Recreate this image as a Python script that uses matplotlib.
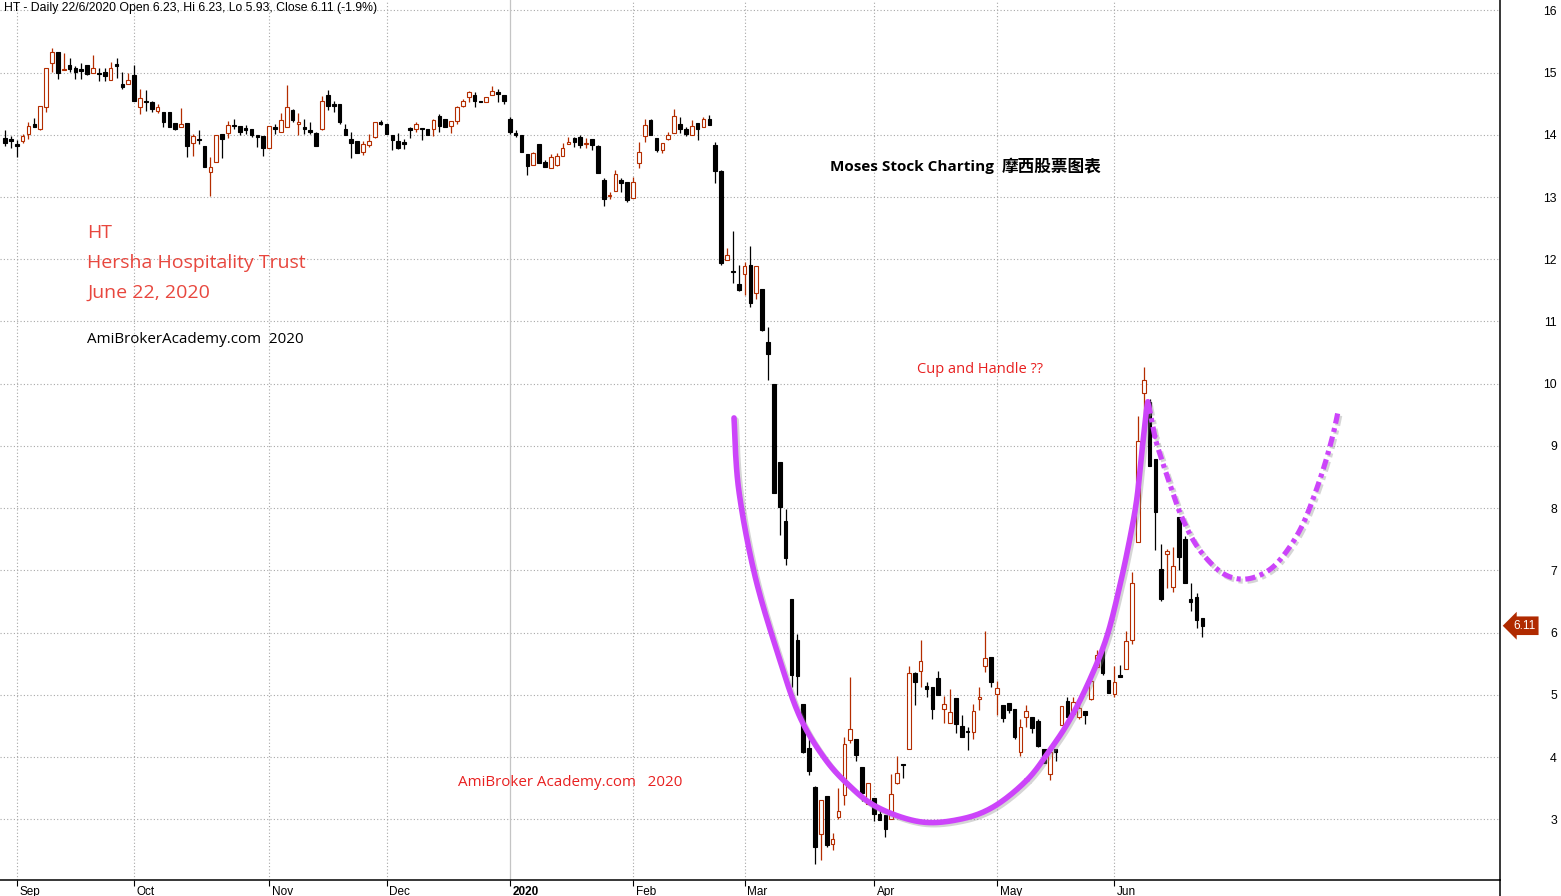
import numpy as np
import pandas as pd
import matplotlib
matplotlib.use("Agg")
import matplotlib.pyplot as plt
import matplotlib.transforms as mtransforms
import matplotlib.patheffects as pe
from matplotlib.lines import Line2D

plt.rcParams['font.family'] = ['Liberation Sans', 'DejaVu Sans']

# daily OHLC, HT, 29 Aug 2019 .. 22 Jun 2020
opens = [13.95, 13.92, 13.84, 13.90, 14.02, 14.18, 14.09, 14.44, 15.16, 15.33,
         15.04, 15.12, 15.08, 15.04, 15.12, 15.00, 14.99, 15.01, 14.88, 15.13,
         14.82, 14.81, 14.96, 14.44, 14.53, 14.53, 14.39, 14.37, 14.37, 14.19,
         14.13, 14.19, 13.86, 13.93, 13.82, 13.40, 13.57, 14.01, 14.03, 14.15,
         14.14, 14.11, 14.09, 13.99, 13.98, 13.78, 14.12, 14.04, 14.13, 14.40,
         14.18, 14.11, 14.06, 14.03, 14.10, 14.64, 14.50, 14.50, 14.10, 13.94,
         13.90, 13.72, 13.83, 13.97, 14.20, 14.18, 14.00, 13.90, 13.88, 14.11,
         14.09, 14.10, 14.09, 14.10, 14.30, 14.25, 14.14, 14.22, 14.47, 14.61,
         14.64, 14.55, 14.52, 14.64, 14.69, 14.64, 14.25, 14.03, 14.00, 13.69,
         13.51, 13.85, 13.56, 13.46, 13.52, 13.66, 13.85, 13.95, 13.96, 13.85,
         13.94, 13.82, 13.28, 13.01, 13.09, 13.28, 13.24, 12.98, 13.54, 13.98,
         14.23, 13.95, 13.76, 13.94, 14.03, 14.18, 14.09, 14.00, 14.19, 14.13,
         14.25, 13.84, 13.42, 11.98, 11.81, 11.60, 11.77, 11.91, 11.45, 11.52,
         10.67, 10.00, 8.74, 7.79, 6.54, 5.88, 4.85, 4.14, 3.52, 2.76,
         3.38, 2.61, 3.04, 3.39, 4.27, 4.29, 3.84, 3.24, 3.34, 3.09,
         3.07, 3.00, 3.59, 3.88, 4.13, 5.35, 5.39, 5.14, 5.13, 5.27,
         4.77, 4.54, 4.95, 4.50, 4.41, 4.41, 4.94, 5.46, 5.61, 5.01,
         4.84, 4.87, 4.77, 4.08, 4.65, 4.64, 4.58, 4.13, 3.73, 4.13,
         4.52, 4.90, 4.69, 4.65, 4.74, 4.94, 5.45, 5.78, 5.24, 5.01,
         5.32, 5.41, 5.88, 7.46, 9.85, 9.71, 8.79, 7.02, 7.26, 6.74,
         7.85, 7.50, 6.54, 6.57, 6.23]
highs = [14.07, 13.98, 13.92, 14.01, 14.21, 14.27, 14.47, 15.08, 15.39, 15.33,
         15.31, 15.23, 15.11, 15.15, 15.12, 15.28, 15.07, 15.08, 15.17, 15.23,
         15.01, 14.99, 15.12, 14.73, 14.72, 14.55, 14.50, 14.37, 14.37, 14.19,
         14.43, 14.19, 14.01, 14.07, 13.82, 13.64, 13.99, 14.01, 14.22, 14.25,
         14.14, 14.16, 14.09, 13.99, 13.98, 14.14, 14.17, 14.35, 14.80, 14.41,
         14.35, 14.26, 14.20, 14.05, 14.62, 14.72, 14.55, 14.50, 14.18, 14.05,
         13.90, 13.90, 14.01, 14.20, 14.23, 14.18, 14.00, 14.03, 13.94, 14.13,
         14.21, 14.10, 14.09, 14.25, 14.34, 14.25, 14.22, 14.47, 14.58, 14.71,
         14.69, 14.55, 14.60, 14.78, 14.74, 14.64, 14.29, 14.08, 14.00, 13.69,
         13.73, 13.85, 13.60, 13.69, 13.70, 13.86, 13.96, 13.97, 13.99, 13.95,
         13.94, 13.84, 13.31, 13.08, 13.43, 13.31, 13.24, 13.32, 13.88, 14.25,
         14.25, 13.95, 13.86, 14.05, 14.41, 14.29, 14.13, 14.23, 14.19, 14.29,
         14.32, 13.88, 13.44, 12.18, 12.45, 11.91, 11.95, 12.21, 11.89, 11.52,
         10.91, 10.00, 8.74, 7.99, 6.54, 5.98, 4.85, 4.36, 3.54, 3.31,
         3.38, 2.78, 3.50, 4.32, 5.28, 4.29, 3.84, 3.58, 3.34, 3.15,
         3.07, 3.73, 4.02, 3.88, 5.46, 5.36, 5.88, 5.21, 5.13, 5.38,
         4.98, 5.09, 4.95, 4.68, 4.49, 4.86, 5.12, 6.03, 5.61, 5.22,
         4.84, 4.87, 4.77, 4.61, 4.84, 4.64, 4.61, 4.13, 4.17, 4.13,
         4.82, 4.97, 4.97, 4.93, 4.74, 5.35, 5.72, 5.78, 5.24, 5.46,
         5.48, 6.02, 6.98, 9.48, 10.27, 9.75, 8.79, 7.42, 7.34, 7.38,
         7.85, 7.55, 6.79, 6.63, 6.23]
lows = [13.82, 13.79, 13.64, 13.86, 13.94, 14.12, 14.07, 14.37, 15.01, 14.89,
        15.04, 15.01, 14.89, 14.89, 14.96, 15.00, 14.86, 14.87, 14.88, 14.91,
        14.73, 14.81, 14.55, 14.33, 14.39, 14.36, 14.35, 14.12, 14.13, 14.08,
        14.13, 13.65, 13.66, 13.85, 13.49, 13.01, 13.57, 13.63, 13.95, 14.10,
        13.99, 14.01, 13.97, 13.81, 13.66, 13.78, 14.02, 14.04, 14.13, 14.21,
        14.00, 14.02, 14.01, 13.82, 14.07, 14.40, 14.37, 14.17, 13.99, 13.62,
        13.70, 13.67, 13.80, 13.95, 14.15, 14.02, 13.76, 13.77, 13.77, 13.95,
        14.04, 13.91, 13.99, 13.98, 14.05, 14.13, 14.03, 14.17, 14.44, 14.52,
        14.44, 14.52, 14.52, 14.64, 14.52, 14.50, 14.01, 13.97, 13.73, 13.35,
        13.51, 13.54, 13.48, 13.46, 13.50, 13.66, 13.85, 13.81, 13.78, 13.79,
        13.76, 13.39, 12.85, 12.97, 13.09, 13.08, 12.92, 12.98, 13.47, 13.89,
        14.00, 13.73, 13.70, 13.91, 14.03, 14.03, 13.98, 14.00, 13.91, 14.13,
        14.15, 13.22, 11.90, 11.98, 11.62, 11.49, 11.43, 11.24, 11.36, 10.85,
        10.06, 8.24, 7.57, 7.09, 5.12, 5.00, 4.06, 3.71, 2.28, 2.35,
        2.55, 2.50, 3.01, 3.23, 4.23, 3.93, 3.30, 3.24, 2.98, 2.99,
        2.71, 3.00, 3.56, 3.67, 4.13, 4.83, 5.12, 4.97, 4.61, 5.00,
        4.55, 4.54, 4.39, 4.33, 4.11, 4.29, 4.75, 5.37, 5.12, 4.68,
        4.57, 4.71, 4.29, 4.02, 4.49, 4.39, 4.16, 3.90, 3.63, 3.94,
        4.52, 4.65, 4.69, 4.61, 4.53, 4.92, 5.45, 5.32, 5.03, 4.96,
        5.28, 5.41, 5.81, 7.46, 9.36, 8.67, 7.32, 6.51, 6.71, 6.65,
        7.00, 6.80, 6.34, 6.07, 5.93]
closes = [13.86, 13.90, 13.82, 13.98, 14.14, 14.13, 14.47, 15.08, 15.33, 15.00,
          15.05, 15.05, 15.01, 15.03, 14.97, 15.07, 14.97, 14.95, 15.08, 15.10,
          14.76, 14.88, 14.55, 14.59, 14.52, 14.41, 14.44, 14.21, 14.13, 14.09,
          14.18, 13.82, 13.98, 13.91, 13.49, 13.49, 13.99, 13.93, 14.15, 14.14,
          14.05, 14.07, 13.99, 13.97, 13.78, 14.14, 14.10, 14.23, 14.45, 14.24,
          14.20, 14.10, 14.05, 13.82, 14.55, 14.47, 14.47, 14.20, 13.99, 13.86,
          13.70, 13.85, 13.90, 14.20, 14.17, 14.02, 13.92, 13.79, 13.85, 14.07,
          14.18, 14.09, 13.99, 14.23, 14.14, 14.13, 14.22, 14.45, 14.54, 14.68,
          14.55, 14.52, 14.60, 14.71, 14.66, 14.54, 14.05, 13.99, 13.73, 13.50,
          13.71, 13.54, 13.48, 13.64, 13.66, 13.78, 13.88, 13.89, 13.84, 13.87,
          13.84, 13.39, 12.97, 13.04, 13.37, 13.23, 12.95, 13.24, 13.72, 14.15,
          14.00, 13.76, 13.86, 14.00, 14.30, 14.10, 14.02, 14.14, 14.10, 14.26,
          14.15, 13.41, 11.94, 12.06, 11.79, 11.51, 11.89, 11.29, 11.89, 10.86,
          10.48, 8.24, 8.02, 7.20, 5.32, 5.30, 4.08, 3.78, 2.56, 3.31,
          2.59, 2.68, 3.13, 4.21, 4.45, 4.03, 3.42, 3.58, 3.08, 2.99,
          2.84, 3.40, 3.74, 3.87, 5.35, 5.21, 5.54, 5.10, 4.78, 5.00,
          4.85, 4.73, 4.53, 4.33, 4.40, 4.74, 4.96, 5.59, 5.21, 5.11,
          4.63, 4.75, 4.32, 4.49, 4.74, 4.47, 4.18, 3.90, 4.08, 4.08,
          4.82, 4.65, 4.88, 4.79, 4.68, 5.22, 5.64, 5.35, 5.03, 5.20,
          5.28, 5.87, 6.79, 9.08, 10.06, 8.67, 7.94, 6.54, 7.31, 7.07,
          7.22, 6.80, 6.49, 6.21, 6.11]

holidays = ['2019-09-02', '2019-11-28', '2019-12-25', '2020-01-01',
            '2020-01-20', '2020-02-17', '2020-04-10', '2020-05-25']
month_labels = ['Sep', 'Oct', 'Nov', 'Dec', '2020', 'Feb', 'Mar', 'Apr', 'May', 'Jun']
price_ticks = list(range(3, 17))
last_close = 6.11

# hand-drawn cup and handle, guide points as (bar index, price)
cup_x = [124.2, 125.0, 127.8, 132.0, 135.4, 139.4, 143.4, 148.5, 155.9, 162.7,
         168.4, 174.1, 178.0, 181.4, 184.8, 187.7, 189.9, 191.6, 192.8, 193.6,
         194.4, 194.7]
cup_y = [9.45, 8.30, 6.90, 5.56, 4.65, 4.01, 3.58, 3.20, 2.96, 3.00,
         3.20, 3.63, 4.11, 4.60, 5.24, 5.93, 6.74, 7.49, 8.13, 8.83,
         9.52, 9.71]
handle_x = [194.8, 195.9, 197.1, 198.8, 200.2, 202.4, 204.7, 207.5, 210.4, 213.2,
            216.1, 218.9, 221.2, 223.2, 224.9, 226.3, 227.1]
handle_y = [9.68, 9.15, 8.77, 8.29, 7.92, 7.49, 7.19, 6.95, 6.86, 6.90,
            7.06, 7.38, 7.76, 8.24, 8.72, 9.20, 9.55]

dates = pd.bdate_range('2019-08-29', '2020-06-22')
dates = dates[~dates.isin(pd.to_datetime(holidays))]
n = len(opens)
x = np.arange(n)
o = np.array(opens)
h = np.array(highs)
l = np.array(lows)
c = np.array(closes)
month_idx = [i for i in range(1, len(dates)) if dates[i].month != dates[i - 1].month]


def smooth(px, py, steps=20):
    # catmull-rom through the guide points
    p = np.column_stack([px, py])
    p = np.vstack([p[0], p, p[-1]])
    out = []
    for i in range(1, len(p) - 2):
        p0, p1, p2, p3 = p[i - 1], p[i], p[i + 1], p[i + 2]
        t = np.linspace(0, 1, steps)[:, None]
        seg = 0.5 * (2 * p1 + (-p0 + p2) * t + (2 * p0 - 5 * p1 + 4 * p2 - p3) * t ** 2
                     + (-p0 + 3 * p1 - 3 * p2 + p3) * t ** 3)
        out.append(seg)
    out = np.vstack(out)
    return out[:, 0], out[:, 1]


RED = '#b42d00'
PURPLE = '#cc44fa'
fig = plt.figure(figsize=(15.61, 8.96), dpi=100)
ax = fig.add_axes([0, 16 / 896, 1500 / 1561, 880 / 896])
ax.set_xlim(-0.85, 254.7)
ax.set_ylim(2.024, 16.166)

# grid
for p in price_ticks:
    ax.axhline(p, color='#a8a8a8', lw=0.8, ls=(0, (1, 2)), zorder=0)
for i, lab in zip(month_idx, month_labels):
    if lab == '2020':
        ax.axvline(i, color='#c4c4c4', lw=0.9, zorder=0)
    else:
        ax.axvline(i, color='#a8a8a8', lw=0.8, ls=(0, (1, 2)), zorder=0)

# candles
up = c > o
wick_col = np.where(up, RED, 'black')
ax.vlines(x, l, h, colors=wick_col, lw=0.9, zorder=2)
body_lo = np.minimum(o, c)
body_h = np.maximum(np.abs(c - o), 0.025)
ax.bar(x, body_h, bottom=body_lo, width=0.62,
       color=np.where(up, 'white', 'black'), edgecolor=wick_col,
       linewidth=0.8, zorder=3)

# cup and handle
shadow = [pe.SimpleLineShadow(offset=(1.5, -1.5), shadow_color='#888888', alpha=0.35),
          pe.Normal()]
cx, cy = smooth(cup_x, cup_y)
ax.plot(cx, cy, color=PURPLE, lw=4, solid_capstyle='round', zorder=5,
        path_effects=shadow)
hx, hy = smooth(handle_x, handle_y)
ax.plot(hx, hy, color=PURPLE, lw=3.7, ls=(0, (2.0, 0.9, 0.8, 0.9)), zorder=5,
        path_effects=shadow)

# axes look
for s in ['top', 'left']:
    ax.spines[s].set_visible(False)
ax.spines['bottom'].set_linewidth(1.1)
ax.spines['right'].set_linewidth(1.1)
fig.add_artist(Line2D([1500 / 1561, 1500 / 1561], [0, 16 / 896], color='black', lw=1.1))

ax.yaxis.tick_right()
ax.set_yticks(price_ticks)
ax.set_yticklabels([str(p) for p in price_ticks])
ax.tick_params(axis='y', length=0, pad=41, labelsize=8.8)
for lab in ax.get_yticklabels():
    lab.set_ha('right')

ax.set_xticks(month_idx)
ax.set_xticklabels(month_labels)
ax.tick_params(axis='x', direction='out', length=4, width=0.8, pad=0, labelsize=8.5)
shift = mtransforms.ScaledTranslation(2 / 72, 0, fig.dpi_scale_trans)
for lab in ax.get_xticklabels():
    lab.set_ha('left')
    lab.set_transform(lab.get_transform() + shift)
    if lab.get_text() == '2020':
        lab.set_fontweight('bold')

# last price tag
tag_tr = mtransforms.blended_transform_factory(ax.transAxes, ax.transData)
ax.text(1.0 + 13 / 1500, last_close, f'{last_close:.2f}', transform=tag_tr, color='white',
        fontsize=8.5, ha='left', va='center', clip_on=False,
        bbox=dict(boxstyle='larrow,pad=0.28', fc='#b02a00', ec='none'))


def ft(px, py, s, **kw):
    fig.text(px / 1561, 1 - py / 896, s, va='center', **kw)


ft(4, 8, 'HT - Daily 22/6/2020 Open 6.23, Hi 6.23, Lo 5.93, Close 6.11 (-1.9%)',
   fontsize=8.85, color='black')
txt_red = '#e8473e'
ft(87, 233, 'HT', fontsize=14, color=txt_red, family='Open Sans')
ft(87, 263, 'Hersha Hospitality Trust', fontsize=14, color=txt_red, family='Open Sans')
ft(87, 293, 'June 22, 2020', fontsize=14, color=txt_red, family='Open Sans')
ft(87, 339, 'AmiBrokerAcademy.com  2020', fontsize=10.9, color='black', family='Open Sans')
ft(830, 167, 'Moses Stock Charting', fontsize=11, fontweight='bold',
   color='black', family='Open Sans')
ft(1002, 166, '摩西股票图表', fontsize=12, fontweight='bold',
   color='black', family=['Noto Sans CJK SC', 'DejaVu Sans'])
ft(917, 369, 'Cup and Handle ??', fontsize=10.5, color='#e82020', family='Open Sans')
ft(458, 782, 'AmiBroker Academy.com   2020', fontsize=10.9, color='#e82020', family='Open Sans')

fig.savefig('out.png', dpi=100, facecolor='white')
